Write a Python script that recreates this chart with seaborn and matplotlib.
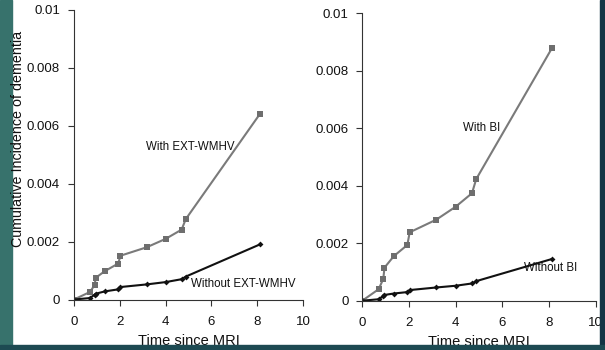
import matplotlib
matplotlib.use("Agg")
import matplotlib.pyplot as plt
import seaborn as sns
import pandas as pd
from matplotlib.patches import Rectangle

# ---- data ----
time = [0, 0.7, 0.9, 0.95, 1.35, 1.93, 2.03, 3.17, 4.0, 4.7, 4.88, 8.12]
with_wmhv = [0, 0.00026, 0.0005, 0.00075, 0.00098, 0.00124, 0.00151, 0.0018, 0.00209, 0.00241, 0.00277, 0.0064]
without_wmhv = [0, 0.00005, 0.00017, 0.0002, 0.00028, 0.00035, 0.00043, 0.00052, 0.0006, 0.0007, 0.00079, 0.0019]
with_bi = [0, 0.0004, 0.00076, 0.00115, 0.00155, 0.00194, 0.00238, 0.00282, 0.00327, 0.00374, 0.00423, 0.00878]
without_bi = [0, 0.00005, 0.00016, 0.0002, 0.00025, 0.0003, 0.00037, 0.00046, 0.00052, 0.0006, 0.00068, 0.00145]

y_ticks = [0, 0.002, 0.004, 0.006, 0.008, 0.01]
y_tick_labels = ["0", "0.002", "0.004", "0.006", "0.008", "0.01"]
x_ticks = [0, 2, 4, 6, 8, 10]
x_tick_labels = ["0", "2", "4", "6", "8", "10"]

x_label = "Time since MRI"
y_label = "Cumulative Incidence of dementia"

sns.set_style("ticks")
plt.rcParams["font.family"] = ["Liberation Sans", "DejaVu Sans"]

fig = plt.figure(figsize=(6.05, 3.5), dpi=100)
fig.patch.set_facecolor("white")

# slide border strips
fig.patches.append(Rectangle((0, 0), 12/605, 1, transform=fig.transFigure, color="#37726c", zorder=0))
fig.patches.append(Rectangle((0, 0), 1, 5/350, transform=fig.transFigure, color="#1d4a52", zorder=3))
fig.patches.append(Rectangle((600/605, 0), 5/605, 1, transform=fig.transFigure, color="#143444", zorder=0))

ax1 = fig.add_axes([74/605, (350-299.5)/350, 229/605, 290/350])
ax2 = fig.add_axes([362.3/605, (350-300.7)/350, 233.4/605, 287.4/350])

def draw(ax, with_vals, without_vals, with_lbl, without_lbl, wpos, wopos):
    df_w = pd.DataFrame({"t": time, "v": with_vals})
    df_wo = pd.DataFrame({"t": time, "v": without_vals})
    sns.lineplot(data=df_w, x="t", y="v", ax=ax, color="#7a7a7a", lw=1.5,
                 marker="s", markersize=4, markeredgewidth=0, markerfacecolor="#6e6e6e")
    sns.lineplot(data=df_wo, x="t", y="v", ax=ax, color="#111111", lw=1.5,
                 marker="D", markersize=3, markeredgewidth=0)
    ax.set_xlim(0, 10)
    ax.set_ylim(0, 0.01)
    ax.set_xticks(x_ticks)
    ax.set_xticklabels(x_tick_labels)
    ax.set_yticks(y_ticks)
    ax.set_yticklabels(y_tick_labels)
    ax.tick_params(axis="both", labelsize=9.5, length=4, width=0.8, color="#333333", labelcolor="#111111", pad=6)
    ax.tick_params(axis="x", pad=8)
    for s in ["top", "right"]:
        ax.spines[s].set_visible(False)
    for s in ["left", "bottom"]:
        ax.spines[s].set_color("#333333")
        ax.spines[s].set_linewidth(0.8)
    ax.set_facecolor("none")
    ax.set_xlabel(x_label, fontsize=10.5, labelpad=4, color="#111111")
    ax.set_ylabel("")
    ax.text(wpos[0], wpos[1], with_lbl, fontsize=8.3, color="#111111", va="center", ha="left")
    ax.text(wopos[0], wopos[1], without_lbl, fontsize=8.3, color="#111111", va="center", ha="left")

draw(ax1, with_wmhv, without_wmhv, "With EXT-WMHV", "Without EXT-WMHV", (3.14, 0.00526), (5.1, 0.00052))
draw(ax2, with_bi, without_bi, "With BI", "Without BI", (4.33, 0.006), (6.93, 0.00113))

fig.text(18/605, (350-138.5)/350, y_label, rotation=90, ha="center", va="center",
         fontsize=10.3, color="#111111", zorder=5)

fig.savefig("out.png", dpi=100)
